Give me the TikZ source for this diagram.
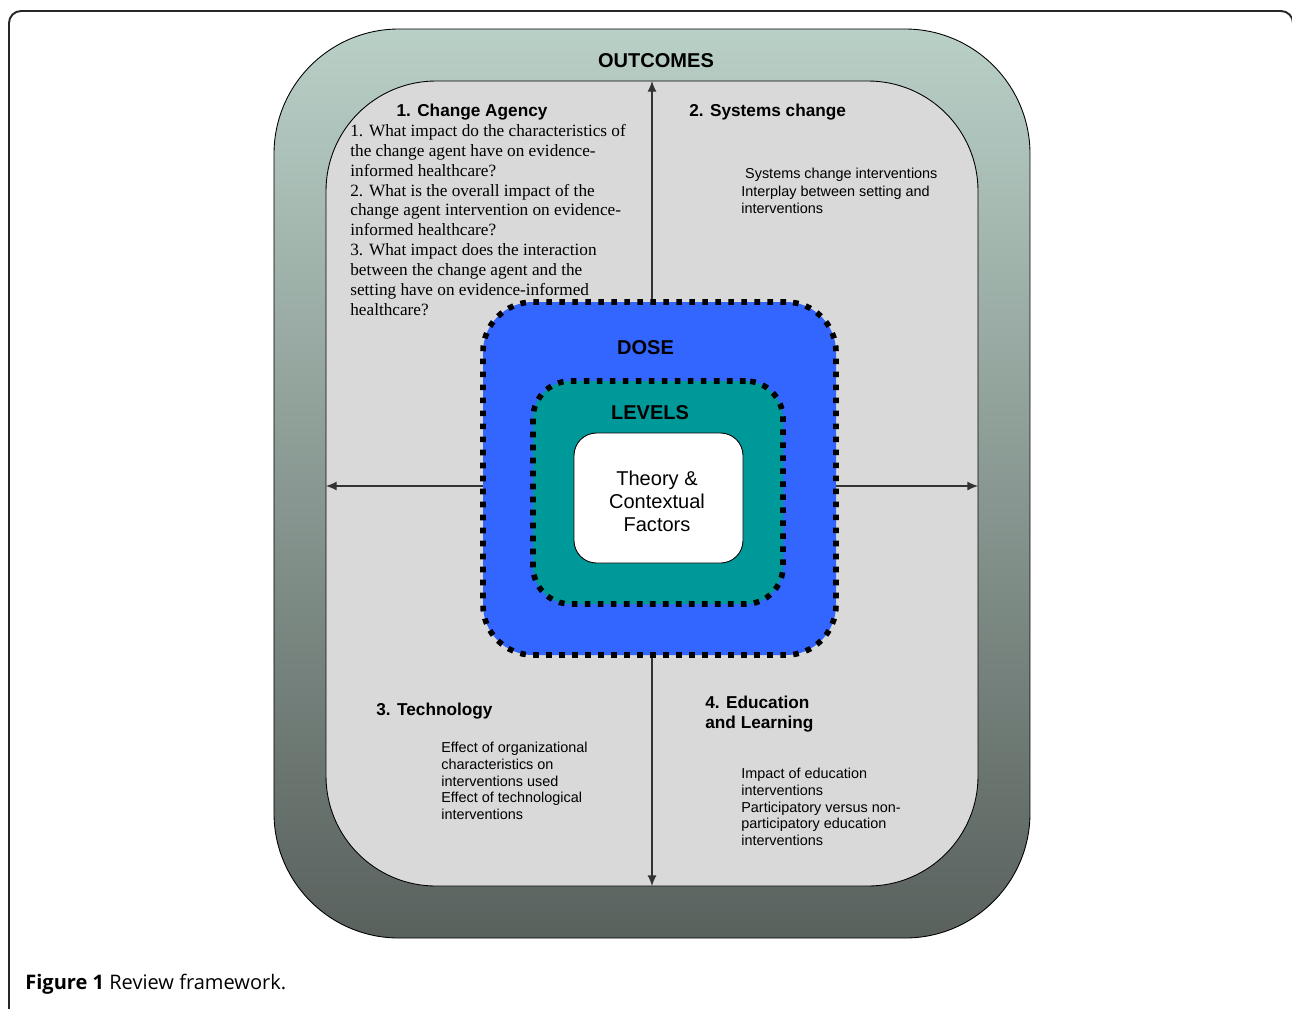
\documentclass[tikz,border=0pt]{standalone}
\usepackage{fontspec}
\setmainfont{Liberation Sans}
\newfontfamily\qfont{Liberation Serif}
\newfontfamily\capfont{Open Sans}
\usetikzlibrary{arrows.meta, positioning, calc}

\definecolor{areagray}{HTML}{D9D9D9}
\definecolor{doseblue}{HTML}{3366FF}
\definecolor{levelteal}{HTML}{009999}
\definecolor{sagetop}{HTML}{B9D0C7}
\definecolor{sagebot}{HTML}{59615D}

\begin{document}
\begin{tikzpicture}[x=0.2mm, y=-0.2mm,
  ringbox/.style={draw, rounded corners=#1, inner sep=0pt, outer sep=0pt, line width=0.5pt},
  dotring/.style={draw, rounded corners=#1, inner sep=0pt, outer sep=0pt, line width=3.2pt, dash pattern=on 3.2pt off 4.2pt},
  arr/.style={-{Latex[length=6pt,width=5pt]}, line width=0.6pt, draw=black!80},
  headtxt/.style={font=\fontsize{9.8}{11.3}\selectfont\bfseries, inner sep=0pt},
  bodytxt/.style={font=\fontsize{8.2}{9.5}\selectfont, align=left, inner sep=0pt},
  titletxt/.style={font=\fontsize{11.4}{13}\selectfont\bfseries, inner sep=0pt}]
\useasboundingbox (0,0) rectangle (1292,1008);

% Figure frame
\draw[line width=1.1pt, black!85, rounded corners=2.4mm] (9,1014) -- (9,11) -- (1293,11) -- (1293,1014);

% Outcomes ring and the four areas
\node[ringbox=25mm, top color=sagetop, bottom color=sagebot, minimum width=151.2mm, minimum height=181.8mm] (outcomes) at (652,483.5) {};
\node[ringbox=22mm, fill=areagray, minimum width=130.4mm, minimum height=161mm] (area) at (652,483.5) {};

% Arrows out to the areas
\coordinate (hub) at (652,486);
\draw[arr] (hub) -- (hub |- area.north);
\draw[arr] (hub) -- (hub |- area.south);
\draw[arr] (hub) -- (hub -| area.west);
\draw[arr] (hub) -- (hub -| area.east);

% Dose, levels and core
\node[dotring=10mm, fill=doseblue, minimum width=70.6mm, minimum height=70.6mm] (dose) at (659.5,478.5) {};
\node[dotring=7.5mm, fill=levelteal, minimum width=50mm, minimum height=44.6mm] (levels) at (658,492.5) {};
\node[ringbox=4.5mm, fill=white, minimum width=33.8mm, minimum height=26mm] (core) at (658.5,498) {};
\node[align=center, inner sep=0pt, font=\fontsize{11.4}{13}\selectfont] (corelbl) at (657,501) {Theory \&\\Contextual\\Factors};

\node[titletxt, anchor=base] (outlbl) at (656,67) {OUTCOMES};
\node[titletxt, anchor=base] (doselbl) at (645.5,354) {DOSE};
\node[titletxt, anchor=base] (levlbl) at (650,419) {LEVELS};

% 1. Change agency
\node[headtxt, anchor=base] (agency) at (472,116) {1. Change Agency};
\node[anchor=north west, inner sep=0pt, align=left, font=\qfont\fontsize{9.8}{11.3}\selectfont] (agencyq) at (350,124) {1. What impact do the characteristics of\\the change agent have on evidence-\\informed healthcare?\\2. What is the overall impact of the\\change agent intervention on evidence-\\informed healthcare?\\3. What impact does the interaction\\between the change agent and the\\setting have on evidence-informed\\healthcare?};

% 2. Systems change
\node[headtxt, anchor=base west] (systems) at (689,116) {2. Systems change};
\node[bodytxt, anchor=north west, font=\fontsize{8.2}{9.9}\selectfont] (systemsl) at (741,168) {\hspace*{2.2pt}Systems change interventions\\Interplay between setting and\\interventions};

% 3. Technology
\node[headtxt, anchor=base west] (tech) at (376,715) {3. Technology};
\node[bodytxt, anchor=north west] (techl) at (441,742) {Effect of organizational\\characteristics on\\interventions used\\Effect of technological\\interventions};

% 4. Education and learning
\node[headtxt, anchor=north west, align=left] (edu) at (705,696) {4. Education\\and Learning};
\node[bodytxt, anchor=north west] (edul) at (741,768) {Impact of education\\interventions\\Participatory versus non-\\participatory education\\interventions};

% Caption
\node[anchor=base west, inner sep=0pt, font=\capfont\fontsize{11.4}{13}\selectfont] (caption) at (25,989) {\textbf{Figure 1} Review framework.};
\end{tikzpicture}
\end{document}
